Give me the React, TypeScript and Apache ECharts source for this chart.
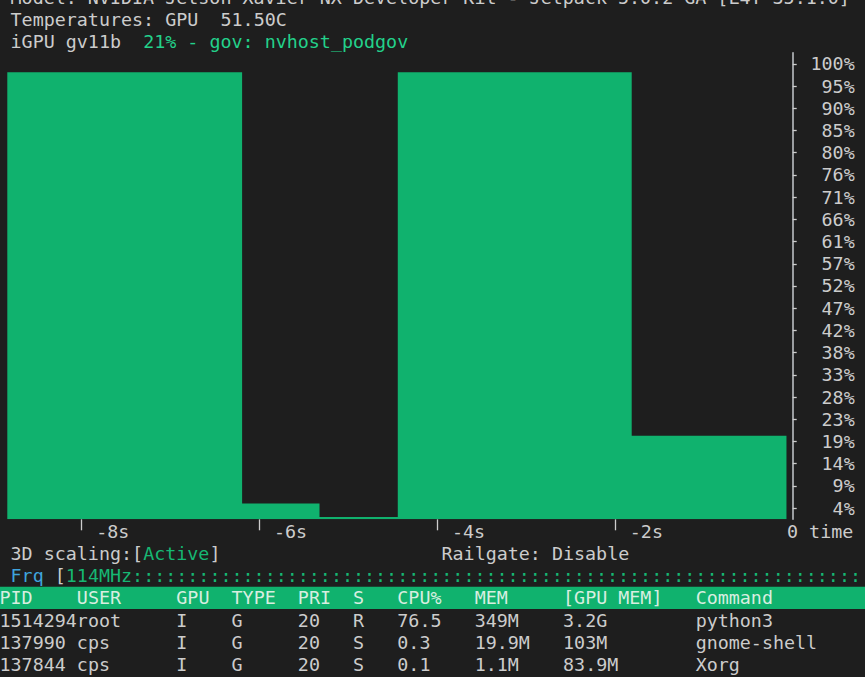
import React, { useEffect, useRef } from "react";
import * as echarts from "echarts";

// ---- data ----
const sampleTimes = [-8.83, -7.95, -7.07, -6.19, -5.32, -4.44, -3.56, -2.69, -1.81, -0.93];
const sampleEnd = -0.07;
const gpuLoad = [95.8, 95.8, 95.8, 3.4, 0.5, 95.8, 95.8, 95.8, 17.9, 17.9];
const xTickValues = [-8, -6, -4, -2];
const yTickLabels = ["4%", "9%", "14%", "19%", "23%", "28%", "33%", "38%", "42%", "47%", "52%", "57%", "61%", "66%", "71%", "76%", "80%", "85%", "90%", "95%", "100%"];
const headerCols = ["PID", "USER", "GPU", "TYPE", "PRI", "S", "CPU%", "MEM", "[GPU MEM]", "Command"];
const colStarts = [0, 7, 16, 21, 27, 32, 36, 43, 51, 63];
const processRows = [
  ["1514294", "root", "I", "G", "20", "R", "76.5", "349M", "3.2G", "python3"],
  ["137990", "cps", "I", "G", "20", "S", "0.3", "19.9M", "103M", "gnome-shell"],
  ["137844", "cps", "I", "G", "20", "S", "0.1", "1.1M", "83.9M", "Xorg"],
];

// ---- style ----
const BG = "#1e1e1e";
const FG = "#cccccc";
const GREEN = "#10b26e";
const GREEN_TXT = "#23d18b";
const GREEN_DIM = "#16b773";
const BLUE = "#3fa4dd";
const HEADER_FG = "#d8eee0";
const FONT_FAMILY = '"DejaVu Sans Mono", monospace';
const FONT_SIZE = 18.35;
const FONT = `${FONT_SIZE}px ${FONT_FAMILY}`;
const CW = 11.05;
const X0 = -0.5;
const rowY = (r: number) => 64.2 + (r - 3) * 22.24;
const colX = (c: number) => X0 + c * CW;

function txt(text: string, col: number, row: number, fill: string) {
  return {
    type: "text",
    x: colX(col),
    y: rowY(row),
    style: { text, fill, font: FONT, verticalAlign: "middle", align: "left" },
    z: 10,
  };
}

export default function App() {
  const ref = useRef<HTMLDivElement>(null);
  useEffect(() => {
    if (!ref.current) return;
    const chart = echarts.init(ref.current, null, { renderer: "svg" });
    const yTickValues = yTickLabels.map((_, i) => ((i + 1) * 100) / 21);
    const areaData = sampleTimes.map((t, i) => [t, gpuLoad[i]]);
    areaData.push([sampleEnd, gpuLoad[gpuLoad.length - 1]]);

    const graphics: any[] = [];
    // header lines
    graphics.push(txt("Model: NVIDIA Jetson Xavier NX Developer Kit - Jetpack 5.0.2 GA [L4T 35.1.0]", 1, 0, FG));
    graphics.push(txt("Temperatures: GPU", 1, 1, FG));
    graphics.push(txt("51.50C", 20, 1, FG));
    graphics.push(txt("iGPU gv11b", 1, 2, FG));
    graphics.push(txt("21% - gov: nvhost_podgov", 13, 2, GREEN_TXT));
    // below chart
    graphics.push(txt("3D scaling:[", 1, 25, FG));
    graphics.push(txt("Active", 13, 25, GREEN_DIM));
    graphics.push(txt("]", 19, 25, FG));
    graphics.push(txt("Railgate: Disable", 40, 25, FG));
    graphics.push(txt("Frq", 1, 26, BLUE));
    graphics.push(txt("[", 5, 26, FG));
    graphics.push(txt("114MHz", 6, 26, GREEN_DIM));
    graphics.push(txt(":".repeat(66), 12, 26, GREEN_DIM));
    // table header band
    graphics.push({
      type: "rect",
      shape: { x: 0, y: rowY(27) - 11.12, width: 865, height: 22.24 },
      style: { fill: GREEN },
      z: 5,
    });
    headerCols.forEach((h, i) => graphics.push(txt(h, colStarts[i], 27, HEADER_FG)));
    processRows.forEach((row, r) =>
      row.forEach((cell, i) => graphics.push(txt(cell, colStarts[i], 28 + r, FG)))
    );

    chart.setOption({
      animation: false,
      backgroundColor: BG,
      grid: [
        { left: 7.3, right: 72.3, top: 52.7, bottom: 157.7 },
        { left: 7.3, right: 72.3, top: 63.8, bottom: 146.6 },
      ],
      xAxis: [
        {
          type: "value",
          gridIndex: 0,
          min: sampleTimes[0],
          max: 0,
          axisLine: { show: false, onZero: false },
          splitLine: { show: false },
          axisTick: {
            show: true,
            customValues: xTickValues,
            length: 11,
            lineStyle: { color: FG, width: 1.3 },
          },
          axisLabel: {
            show: true,
            customValues: xTickValues,
            formatter: (v: number) => `${v}s`,
            align: "left",
            padding: [0, 0, 0, 15],
            margin: 3,
            color: FG,
            fontFamily: FONT_FAMILY,
            fontSize: FONT_SIZE,
          },
          name: "0 time",
          nameLocation: "end",
          nameGap: -5.7,
          nameTextStyle: {
            color: FG,
            fontFamily: FONT_FAMILY,
            fontSize: FONT_SIZE,
            align: "left",
            verticalAlign: "top",
            padding: [3, 0, 0, 0],
          },
        },
        { type: "value", gridIndex: 1, min: 0, max: 1, show: false, axisLine: { onZero: false } },
      ],
      yAxis: [
        {
          type: "value",
          gridIndex: 0,
          position: "right",
          min: 0,
          max: 100,
          axisLine: { show: true, onZero: false, lineStyle: { color: "#c4c8cc", width: 1.5 } },
          axisTick: { show: false },
          axisLabel: { show: false },
          splitLine: { show: false },
        },
        {
          type: "value",
          gridIndex: 1,
          position: "right",
          min: 0,
          max: 100,
          axisLine: { show: false, onZero: false },
          splitLine: { show: false },
          axisTick: {
            show: true,
            customValues: yTickValues,
            length: 4,
            lineStyle: { color: FG, width: 1.3 },
          },
          axisLabel: {
            show: true,
            customValues: yTickValues,
            formatter: (v: number) => yTickLabels[Math.round((v * 21) / 100) - 1] ?? "",
            align: "right",
            margin: 62,
            color: FG,
            fontFamily: FONT_FAMILY,
            fontSize: FONT_SIZE,
          },
        },
      ],
      series: [
        {
          type: "line",
          xAxisIndex: 0,
          yAxisIndex: 0,
          step: "end",
          symbol: "none",
          lineStyle: { width: 0, color: GREEN },
          areaStyle: { color: GREEN, opacity: 1 },
          data: areaData,
        },
      ],
      graphic: { elements: graphics },
    });
    return () => chart.dispose();
  }, []);
  return (
    <div
      ref={ref}
      style={{ position: "fixed", left: 0, top: 0, width: 865, height: 677 }}
    />
  );
}
